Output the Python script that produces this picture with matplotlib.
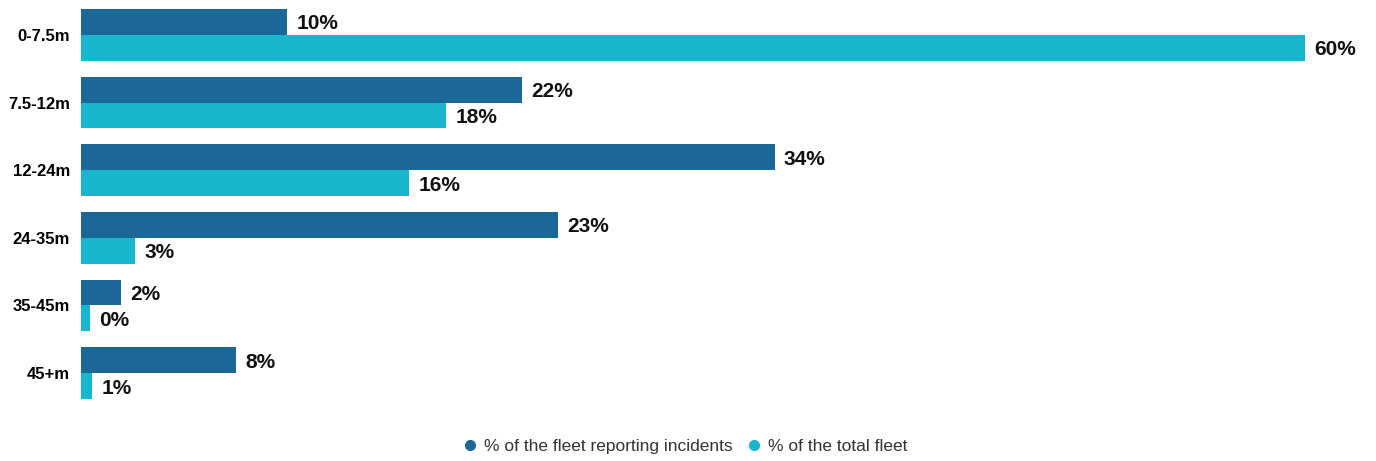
import numpy as np
import matplotlib.pyplot as plt
from matplotlib.lines import Line2D

plt.rcParams['font.family'] = ['Liberation Sans', 'DejaVu Sans']

# Vessel length bands and the two shares per band (%)
lengths = ['0-7.5m', '7.5-12m', '12-24m', '24-35m', '35-45m', '45+m']
incidents = [10.1, 21.6, 34.0, 23.4, 1.96, 7.6]
total_fleet = [60.0, 17.9, 16.1, 2.65, 0.44, 0.55]

dark = '#1b6898'
cyan = '#18b6cd'

fig = plt.figure(figsize=(13.76, 4.61), dpi=100)
ax = fig.add_axes([81 / 1376, 1 - 399 / 461, 1 - 81 / 1376, 390 / 461])

y = np.arange(len(lengths))
h = 26 / 68
ax.barh(y - h / 2, incidents, height=h, color=dark)
ax.barh(y + h / 2, total_fleet, height=h, color=cyan)

for yi, v in zip(y - h / 2, incidents):
    ax.text(v + 0.45, yi + 0.03, f'{v:.0f}%', va='center', ha='left',
            fontsize=15, fontweight='bold', color='#111111')
for yi, v in zip(y + h / 2, total_fleet):
    ax.text(v + 0.45, yi + 0.03, f'{v:.0f}%', va='center', ha='left',
            fontsize=15, fontweight='bold', color='#111111')

ax.set_xlim(0, (1376 - 81) / 20.4)
ax.set_ylim(len(lengths) - 1 + h, -h)
ax.set_yticks(y)
ax.set_yticklabels(lengths, fontsize=12, fontweight='bold')
ax.tick_params(axis='y', length=0, pad=8)
ax.set_xticks([])
for s in ax.spines.values():
    s.set_visible(False)

handles = [
    Line2D([], [], marker='o', ls='', color=dark, markersize=7),
    Line2D([], [], marker='o', ls='', color=cyan, markersize=7),
]
fig.legend(handles, ['% of the fleet reporting incidents', '% of the total fleet'],
           loc='center', bbox_to_anchor=(680 / 1376, 1 - 446 / 461), ncol=2,
           frameon=False, fontsize=12.5, handletextpad=-0.2, columnspacing=0.2,
           labelcolor='#333333')

fig.savefig('out.png', dpi=100)
